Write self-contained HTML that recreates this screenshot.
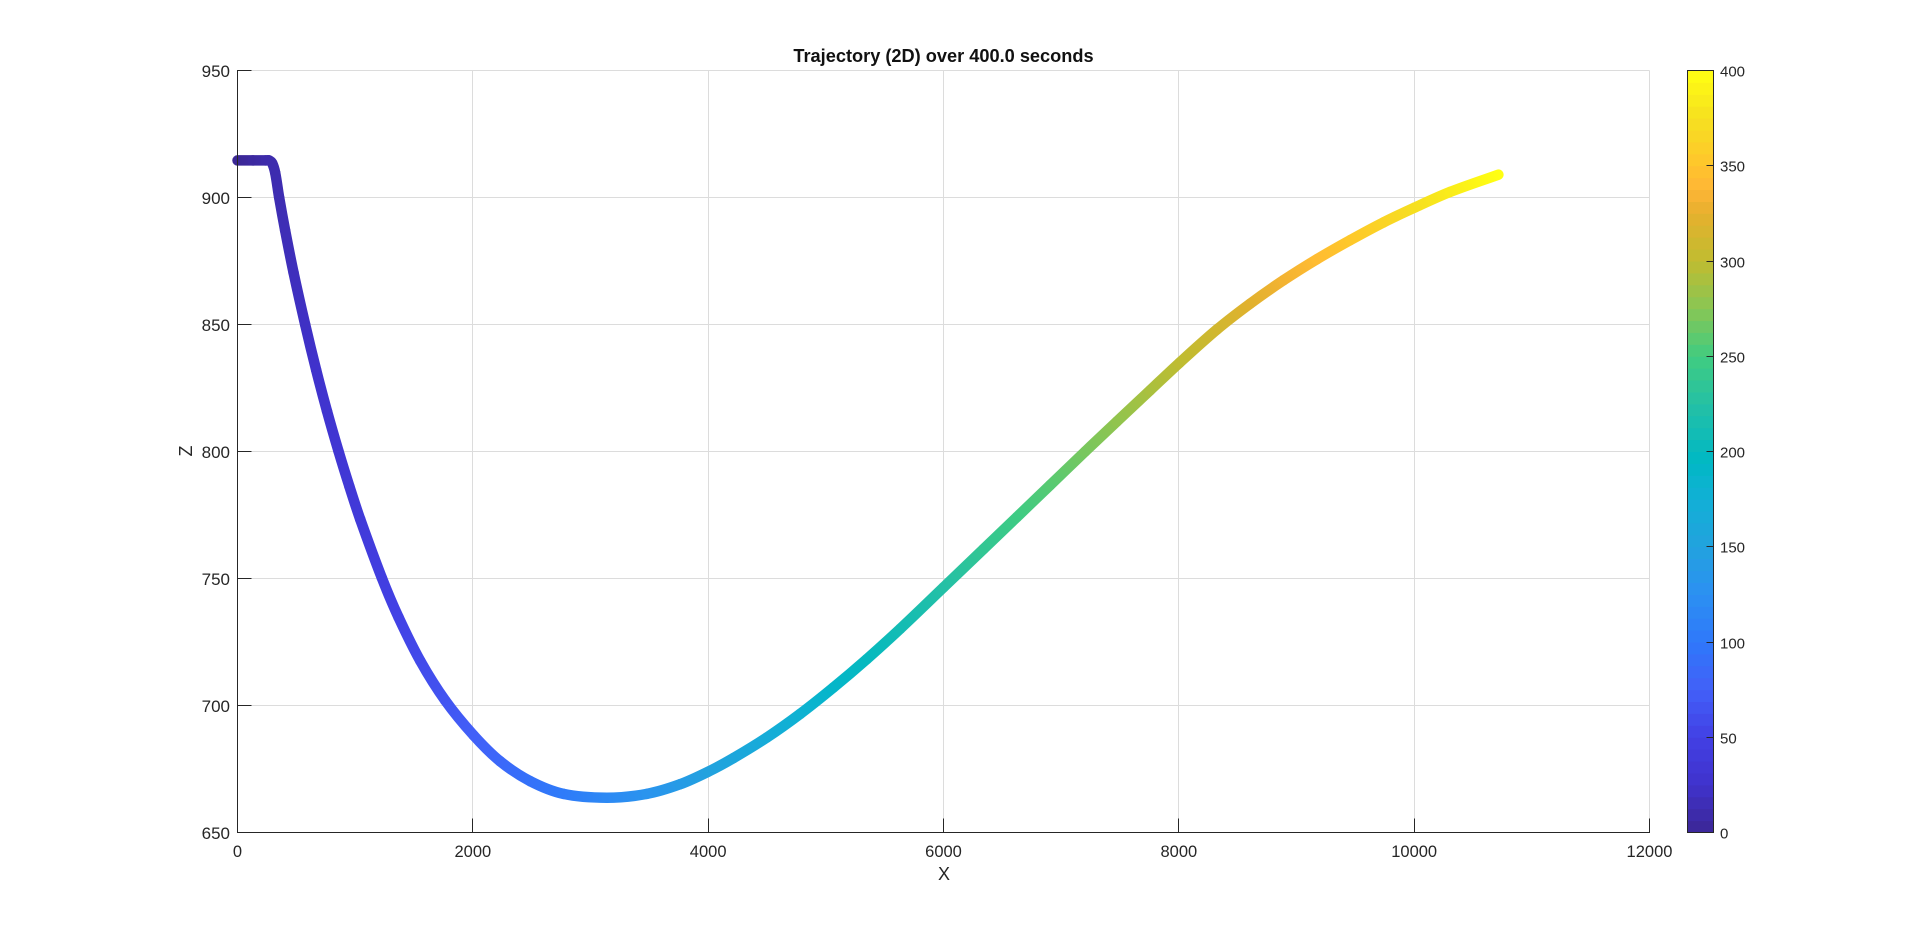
<!DOCTYPE html>
<html lang="en">
<head>
<meta charset="utf-8">
<title>Trajectory (2D) over 400.0 seconds</title>
<style>
html,body{margin:0;padding:0;background:#fff;width:1920px;height:936px;overflow:hidden}
svg{display:block}
text{font-family:"Liberation Sans",Arial,sans-serif;fill:#262626}
</style>
</head>
<body>
<svg id="chart" xmlns="http://www.w3.org/2000/svg" width="1920" height="936" viewBox="0 0 1920 936">
  <g id="grid"></g>
  <g id="series"></g>
  <g id="axes">
    <line x1="237.5" y1="70" x2="237.5" y2="833" stroke="#262626" stroke-width="1"/>
    <line x1="237" y1="832.5" x2="1650" y2="832.5" stroke="#262626" stroke-width="1"/>
  </g>
  <g id="xticks"></g>
  <g id="yticks"></g>
  <text x="943.5" y="62" text-anchor="middle" font-size="18.2" font-weight="bold" style="fill:#111">Trajectory (2D) over 400.0 seconds</text>
  <text x="944" y="880" text-anchor="middle" font-size="18">X</text>
  <text transform="translate(192 451) rotate(-90)" text-anchor="middle" font-size="18">Z</text>
  <g id="colorbar"></g>
</svg>
<script>
// Chart data
const timeValues = [0,4.9,9,10,11,12,13.2,15.2,17.8,21.5,25,28.4,32,35.6,39,46,51,58,66,75,83.5,93,103.5,117.3,130,140.6,149.6,157.6,168,179,189,200,210.5,224,237,247.6,258,269.5,279,290,299,311,322,332,343,353.5,364,374,385,400];
const xValues = [0,130,240,268,295,320,354,405,476,575,669,760,858,952,1043,1227,1368,1553,1765,2006,2233,2488,2770,3139,3479,3762,4003,4215,4499,4782,5065,5349,5632,6000,6340,6624,6907,7204,7473,7756,8005,8323,8606,8889,9173,9456,9739,10003,10306,10716];
const zValues = [914.6,914.6,914.6,914.6,913.5,909.8,900,887,870.5,850,832,816,800.2,786.1,773.3,750.2,734.8,717.6,702,688.3,678,670.2,665.2,663.7,665.2,669,674,679.3,687.4,696.7,707.1,718.3,730.2,746.5,761.6,774.2,786.8,800,811.8,824.1,834.9,848,858.2,867.4,875.7,883.2,890.2,896,902.2,909];
const xTickValues = [0,2000,4000,6000,8000,10000,12000];
const yTickValues = [650,700,750,800,850,900,950];
const colorTickValues = [0,50,100,150,200,250,300,350,400];
const colorMapTimes = [0,25,50,75,100,125,150,175,195,225,250,275,300,325,338,350,375,400];
const colorMapColors = ['#3b2795','#4032cc','#4240e4','#4260f8','#2f78fa','#2c90f2','#22a2de','#12b0d6','#00b8c4','#25c0a5','#40cc80','#88c654','#c0bc30','#e6b02e','#ffb636','#ffc42c','#f6e020','#ffff12'];

const NS = 'http://www.w3.org/2000/svg';
const plot = {left:237.5, right:1649.5, top:70.5, bottom:832.5};
const cbar = {left:1687.5, right:1713.5};
const xDomain = [0,12000], yDomain = [650,950], cDomain = [0,400];
const xScale = v => plot.left + (v - xDomain[0]) / (xDomain[1] - xDomain[0]) * (plot.right - plot.left);
const yScale = v => plot.bottom - (v - yDomain[0]) / (yDomain[1] - yDomain[0]) * (plot.bottom - plot.top);
const cScale = v => plot.bottom - (v - cDomain[0]) / (cDomain[1] - cDomain[0]) * (plot.bottom - plot.top);

function hexToRgb(h){ return [parseInt(h.slice(1,3),16),parseInt(h.slice(3,5),16),parseInt(h.slice(5,7),16)]; }
function colorAt(t){
  let i = 0;
  while (i < colorMapTimes.length - 2 && t > colorMapTimes[i+1]) i++;
  const f = Math.max(0, Math.min(1, (t - colorMapTimes[i]) / (colorMapTimes[i+1] - colorMapTimes[i])));
  const a = hexToRgb(colorMapColors[i]), b = hexToRgb(colorMapColors[i+1]);
  return 'rgb(' + a.map((c,k) => Math.round(c + (b[k]-c)*f)).join(',') + ')';
}
function make(tag, attrs, parent){
  const el = document.createElementNS(NS, tag);
  for (const k in attrs) el.setAttribute(k, attrs[k]);
  parent.appendChild(el);
  return el;
}

const gridG = document.getElementById('grid');
const xTickG = document.getElementById('xticks');
const yTickG = document.getElementById('yticks');
const seriesG = document.getElementById('series');
const cbarG = document.getElementById('colorbar');

xTickValues.forEach(v => {
  const px = Math.round(xScale(v) - 0.5) + 0.5;
  const g = make('line', {x1:px, x2:px, y1:plot.top, y2:plot.bottom, stroke:'#dcdcdc', 'stroke-width':1}, gridG);
  
  
  const t = make('line', {x1:px, x2:px, y1:plot.bottom, y2:plot.bottom - 14, stroke:'#262626', 'stroke-width':1}, xTickG);
  
  
  const l = make('text', {x:xScale(v), y:857, 'text-anchor':'middle', 'font-size':16.5}, xTickG);
  l.textContent = String(v);
  
  
});

yTickValues.forEach(v => {
  const py = Math.round(yScale(v) - 0.5) + 0.5;
  const g = make('line', {x1:plot.left, x2:plot.right, y1:py, y2:py, stroke:'#dcdcdc', 'stroke-width':1}, gridG);
  
  
  const t = make('line', {x1:plot.left, x2:plot.left + 14, y1:py, y2:py, stroke:'#262626', 'stroke-width':1}, yTickG);
  
  
  const l = make('text', {x:230, y:py + 6.5, 'text-anchor':'end', 'font-size':17}, yTickG);
  l.textContent = String(v);
  
  
});

// Trajectory: one smooth, gradient-stroked curve segment between each pair of samples
const defs = make('defs', {}, seriesG);
const pxs = xValues.map(xScale);
const pys = zValues.map(yScale);
function tangent(i){
  const a = Math.max(0, i - 1), b = Math.min(pxs.length - 1, i + 1);
  const dx = pxs[b] - pxs[a], dy = pys[b] - pys[a];
  const len = Math.hypot(dx, dy) || 1;
  return [dx / len, dy / len];
}
for (let i = 0; i < timeValues.length - 1; i++) {
  const x1 = pxs[i], y1 = pys[i], x2 = pxs[i+1], y2 = pys[i+1];
  const len = Math.hypot(x2 - x1, y2 - y1) / 3;
  const t1 = tangent(i), t2 = tangent(i + 1);
  const d = 'M' + x1 + ' ' + y1 + 'C' + (x1 + t1[0]*len) + ' ' + (y1 + t1[1]*len) + ' ' + (x2 - t2[0]*len) + ' ' + (y2 - t2[1]*len) + ' ' + x2 + ' ' + y2;
  const grad = make('linearGradient', {id:'seg' + i, gradientUnits:'userSpaceOnUse', x1:x1, y1:y1, x2:x2, y2:y2 + 0.01}, defs);
  make('stop', {offset:0, 'stop-color':colorAt(timeValues[i])}, grad);
  make('stop', {offset:1, 'stop-color':colorAt(timeValues[i+1])}, grad);
  const seg = make('path', {d:d, fill:'none', stroke:'url(#seg' + i + ')', 'stroke-width':10.5, 'stroke-linecap':'round'}, seriesG);
  
  
}

// Colorbar: 64 discrete colour levels
const levels = 64;
for (let i = 0; i < levels; i++) {
  const t0 = cDomain[0] + (cDomain[1]-cDomain[0]) * i / levels;
  const t1 = cDomain[0] + (cDomain[1]-cDomain[0]) * (i+1) / levels;
  const r = make('rect', {x:cbar.left, width:cbar.right - cbar.left, y:cScale(t1), height:cScale(t0) - cScale(t1) + 0.5, fill:colorAt((t0+t1)/2)}, cbarG);
  
  
}
const frame = make('rect', {x:cbar.left, y:plot.top, width:cbar.right - cbar.left, height:plot.bottom - plot.top, fill:'none', stroke:'#262626', 'stroke-width':1}, cbarG);


colorTickValues.forEach(v => {
  const py = Math.round(cScale(v) - 0.5) + 0.5;
  if (v !== cDomain[0] && v !== cDomain[1]) {
    const t = make('line', {x1:cbar.right - 7, x2:cbar.right, y1:py, y2:py, stroke:'#262626', 'stroke-width':1}, cbarG);
    
    
  }
  const l = make('text', {x:1720, y:py + 6, 'text-anchor':'start', 'font-size':15}, cbarG);
  l.textContent = String(v);
  
  
});
</script>
</body>
</html>
